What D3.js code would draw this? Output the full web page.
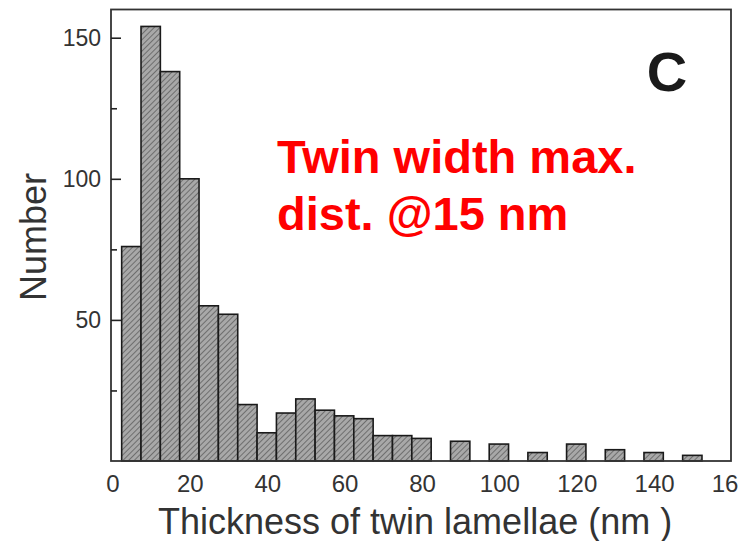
<!DOCTYPE html>
<html>
<head>
<meta charset="utf-8">
<script src="https://cdn.jsdelivr.net/npm/d3@7"></script>
<style>
  body { margin: 0; background: #fff; }
  svg { display: block; }
</style>
</head>
<body>
<svg id="chart" width="750" height="541"></svg>
<script>
// bin centres (nm), 5 nm wide bins
const binCenters = [5, 10, 15, 20, 25, 30, 35, 40, 45, 50, 55, 60, 65, 70, 75, 80,
                    85, 90, 95, 100, 105, 110, 115, 120, 125, 130, 135, 140, 145, 150]
const counts = [76, 154, 138, 100, 55, 52, 20, 10, 17, 22, 18, 16, 15, 9, 9, 8,
                0, 7, 0, 6, 0, 3, 0, 6, 0, 4, 0, 3, 0, 2]
const binWidth = 5
const xTicks = [0, 20, 40, 60, 80, 100, 120, 140, 160]
// the last label is cropped to "16" in the source figure
const xTickLabels = ["0", "20", "40", "60", "80", "100", "120", "140", "16"]
const yTicks = [50, 100, 150]
const yMinorTicks = [25, 75, 125]
const noteLines = ["Twin width max.", "dist. @15 nm"]

const svg = d3.select("#chart")

const x = d3.scaleLinear().domain([0, 160]).range([112, 731])
const y = d3.scaleLinear().domain([0, 160]).range([461, 9.5])

// hatched fill like the printed figure
const defs = svg.append("defs")
const pat = defs.append("pattern")
  .attr("id", "hatch")
  .attr("patternUnits", "userSpaceOnUse")
  .attr("width", 4).attr("height", 4)
  .attr("patternTransform", "rotate(45)")
pat.append("rect").attr("width", 4).attr("height", 4).attr("fill", "#a8a8a8")
pat.append("line")
  .attr("x1", 0).attr("y1", 0).attr("x2", 0).attr("y2", 4)
  .attr("stroke", "#5a5a5a").attr("stroke-width", 1.5)

const bins = binCenters.map((c, i) => ({ c: c, n: counts[i] })).filter(d => d.n > 0)

svg.append("g")
  .selectAll("rect")
  .data(bins)
  .enter().append("rect")
    .attr("x", d => x(d.c - binWidth / 2))
    .attr("y", d => y(d.n))
    .attr("width", d => x(d.c + binWidth / 2) - x(d.c - binWidth / 2))
    .attr("height", d => y(0) - y(d.n))
    .attr("fill", "url(#hatch)")
    .attr("stroke", "#1a1a1a")
    .attr("stroke-width", 1.6)

// frame
svg.append("rect")
  .attr("x", 111).attr("y", 9.5)
  .attr("width", 620).attr("height", 451.5)
  .attr("fill", "none")
  .attr("stroke", "#333")
  .attr("stroke-width", 1.8)

// y axis, ticks pointing inward
const yAxis = svg.append("g")
  .attr("transform", "translate(111,0)")
  .call(d3.axisRight(y).tickValues(yTicks).tickSize(10).tickFormat(""))
yAxis.select(".domain").remove()
yAxis.selectAll("line").attr("stroke", "#222").attr("stroke-width", 1.6)

const yMinor = svg.append("g")
  .attr("transform", "translate(111,0)")
  .call(d3.axisRight(y).tickValues(yMinorTicks).tickSize(6).tickFormat(""))
yMinor.select(".domain").remove()
yMinor.selectAll("line").attr("stroke", "#222").attr("stroke-width", 1.6)

svg.append("g")
  .selectAll("text")
  .data(yTicks)
  .enter().append("text")
    .attr("x", 101)
    .attr("y", d => y(d))
    .attr("dy", "0.35em")
    .attr("text-anchor", "end")
    .attr("font-family", "Liberation Sans, Arial, sans-serif")
    .attr("font-size", 23)
    .attr("fill", "#333")
    .text(d => d)

// x tick labels (no tick marks in the original)
svg.append("g")
  .selectAll("text")
  .data(xTicks)
  .enter().append("text")
    .attr("x", (d, i) => i === xTicks.length - 1 ? x(d) - 6 : x(d) + 1)
    .attr("y", 492)
    .attr("text-anchor", "middle")
    .attr("font-family", "Liberation Sans, Arial, sans-serif")
    .attr("font-size", 24)
    .attr("fill", "#333")
    .text((d, i) => xTickLabels[i])

// axis titles
svg.append("text")
  .attr("x", 158).attr("y", 534)
  .attr("font-family", "Liberation Sans, Arial, sans-serif")
  .attr("font-size", 36)
  .attr("fill", "#333")
  .text("Thickness of twin lamellae (nm )")

svg.append("text")
  .attr("transform", "translate(46,237) rotate(-90)")
  .attr("text-anchor", "middle")
  .attr("font-family", "Liberation Sans, Arial, sans-serif")
  .attr("font-size", 36)
  .attr("fill", "#333")
  .text("Number")

// panel letter
svg.append("text")
  .attr("x", 667).attr("y", 91)
  .attr("text-anchor", "middle")
  .attr("font-family", "Liberation Sans, Arial, sans-serif")
  .attr("font-weight", "bold")
  .attr("font-size", 56)
  .attr("fill", "#1a1a1a")
  .text("C")

// red note
svg.append("g")
  .selectAll("text")
  .data(noteLines)
  .enter().append("text")
    .attr("x", 277)
    .attr("y", (d, i) => 173 + i * 57)
    .attr("font-family", "Liberation Sans, Arial, sans-serif")
    .attr("font-weight", "bold")
    .attr("font-size", 47)
    .attr("fill", "#ff0000")
    .text(d => d)
</script>
</body>
</html>
